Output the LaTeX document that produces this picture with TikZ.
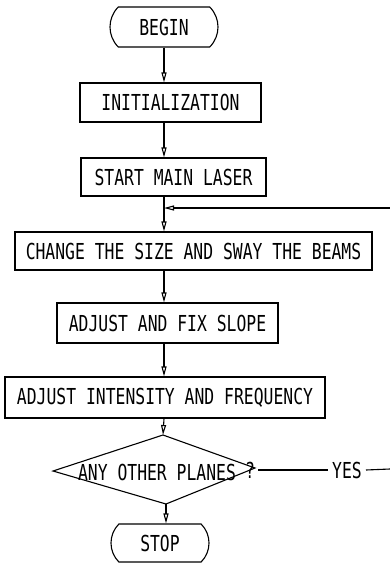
\documentclass[tikz,border=0pt]{standalone}
\usepackage{fontspec}
\usetikzlibrary{shapes.misc,arrows.meta}
\newfontfamily\tw[FakeStretch=0.745]{DejaVu Sans Mono}
\begin{document}
\begin{tikzpicture}[x=1pt,y=-1pt,
  every node/.style={font=\tw\fontsize{22}{22}\selectfont, inner sep=0pt},
  proc/.style={draw, line width=1.1pt, rectangle},
  term/.style={draw, line width=1.1pt, rounded rectangle, rounded rectangle arc length=90},
  arr/.style={line width=1.1pt, -{Triangle[open,length=10pt,width=5pt]}},
  ln/.style={line width=1.1pt}]
\useasboundingbox (0,0) rectangle (390,566);
\node[term, minimum width=108pt, minimum height=40pt] (begin) at (164,27) {BEGIN};
\node[proc, minimum width=181pt, minimum height=39pt] (init) at (170.5,102.5) {INITIALIZATION};
\node[proc, minimum width=185pt, minimum height=38pt] (start) at (173.5,177) {START MAIN LASER};
\node[proc, minimum width=357pt, minimum height=38pt] (change) at (193.5,251) {CHANGE THE SIZE AND SWAY THE BEAMS};
\node[proc, minimum width=221pt, minimum height=40pt] (slope) at (167.5,323) {ADJUST AND FIX SLOPE};
\node[proc, minimum width=320pt, minimum height=41pt] (inten) at (165,397.5) {ADJUST INTENSITY AND FREQUENCY};
\coordinate (dt) at (163,435);
\coordinate (dl) at (53,471);
\coordinate (db) at (166,504);
\coordinate (dr) at (255,468);
\draw[ln] (dt) -- (dr) -- (db) -- (dl) -- cycle;
\node (q) at (157,472) {ANY OTHER PLANES};
\node[inner sep=3pt] (qm) at (250,470) {?};
\node[inner sep=4pt] (yes) at (347,470) {YES};
\node[term, minimum width=98pt, minimum height=38pt] (stop) at (160,543) {STOP};
\coordinate (e1) at (390,469);
\coordinate (e2) at (390,208);
\coordinate (j) at (164,208);
\draw[arr] (begin.south) -- (begin.south |- init.north);
\draw[arr] (init.south -| begin.south) -- (start.north -| begin.south);
\draw[arr] (start.south -| begin.south) -- (change.north -| begin.south);
\draw[arr] (change.south -| begin.south) -- (slope.north -| begin.south);
\draw[arr] (slope.south -| begin.south) -- (inten.north -| begin.south);
\draw[arr] (inten.south -| begin.south) -- (dt);
\draw[arr] (db) -- (db |- stop.north);
\draw[arr] (e2) -- (j);
\draw[ln] (qm.east) -- (yes.west);
\draw[ln] (yes.east) -- (e1);
\end{tikzpicture}
\end{document}
